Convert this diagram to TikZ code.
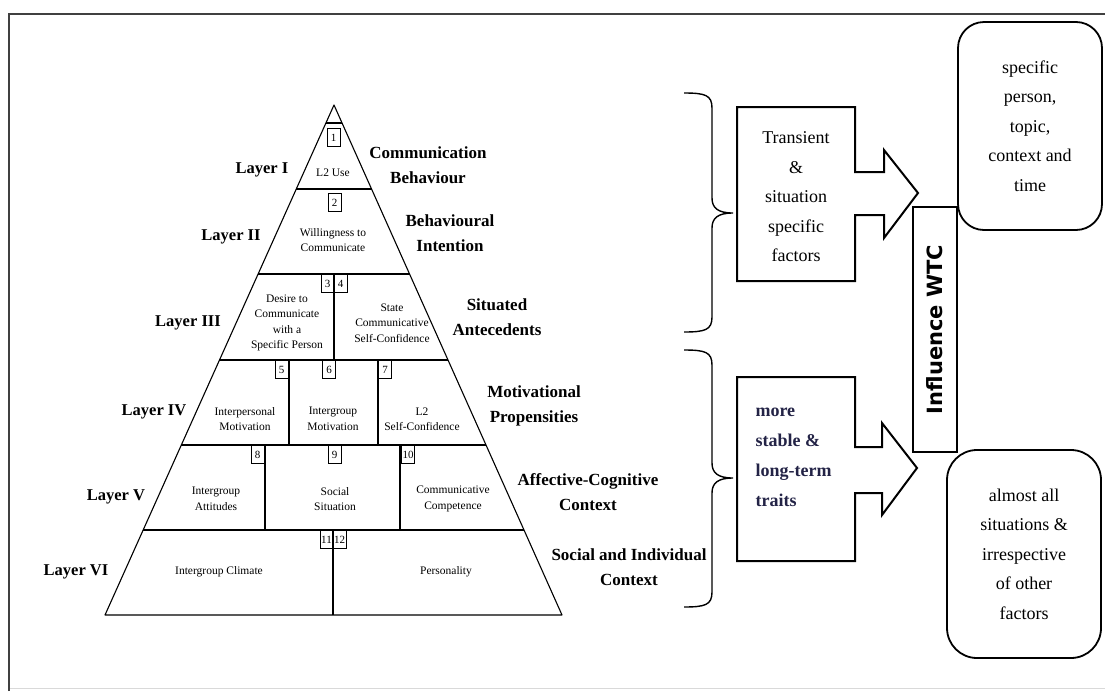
\documentclass[tikz,border=0pt]{standalone}
\usepackage{fontspec}
\setmainfont{Liberation Serif}
\newfontfamily\wtcfont{DejaVu Sans}
\usetikzlibrary{calc}
\definecolor{traitcol}{RGB}{35,35,70}

\begin{document}
\begin{tikzpicture}[x=1pt,y=-1pt,
    cell/.style={align=center,inner sep=1pt,font=\fontsize{11.5}{15.5}\selectfont},
    layerlab/.style={font=\bfseries\fontsize{16.5}{20}\selectfont},
    sidelab/.style={align=center,font=\bfseries\fontsize{17}{25}\selectfont},
    numbox/.style={draw,line width=.9pt,anchor=north,inner sep=0pt,minimum width=13pt,minimum height=18pt,font=\fontsize{11}{11}\selectfont},
    bigtext/.style={align=center,font=\fontsize{18}{29.5}\selectfont},
    rbox/.style={draw,line width=1.8pt,rounded corners=26pt}]
    \useasboundingbox (0,0) rectangle (1105,691);
    \draw[black!15] (9,688) -- (1105,688);
    \draw[line width=2.2pt,black!75] (9,691) -- (9,14) -- (1105,14);

    \coordinate (apex) at (334,105);
    \coordinate (bl) at (105,615);
    \coordinate (br) at (562,615);
    \draw[line width=1.1pt,line join=round] (apex) -- (bl) -- (br) -- cycle;
    \foreach \yy in {123,189,274,360,445,530}
    \draw[line width=1.1pt] ($(apex)!{(\yy-105)/510}!(bl)$) -- ($(apex)!{(\yy-105)/510}!(br)$);
    \foreach \xx/\ya/\yb in {334/274/360,289/360/445,378/360/445,265/445/530,400/445/530,333/530/615}
    \draw[line width=1.1pt] (\xx,\ya) -- (\xx,\yb);
    \foreach \n/\xx/\yy in {1/333.5/128,2/334.5/193,3/327.5/274,4/340.5/274,5/281.5/360,6/329/360,
        7/385/360,8/257.5/445,9/334.5/445,10/408/445,11/326.5/530,12/339.5/530}
    \node[numbox] (n\n) at (\xx,\yy) {\n};

    \node[cell] (use) at (333,173) {L2 Use};
    \node[cell] (wtcom) at (333,240) {Willingness to\\Communicate};
    \node[cell] (desire) at (287,323) {Desire to\\Communicate\\with a\\Specific Person};
    \node[cell] (state) at (392,323) {State\\Communicative\\Self-Confidence};
    \node[cell] (interp) at (245,419) {Interpersonal\\Motivation};
    \node[cell] (intermot) at (333,419) {Intergroup\\Motivation};
    \node[cell] (selfconf) at (422,419) {L2\\Self-Confidence};
    \node[cell] (attit) at (216,499) {Intergroup\\Attitudes};
    \node[cell] (social) at (335,499) {Social\\Situation};
    \node[cell] (compet) at (453,499) {Communicative\\Competence};
    \node[cell] (climate) at (219,572) {Intergroup Climate};
    \node[cell] (person) at (446,572) {Personality};

    \node[layerlab] (l1) at (262,170) {Layer I};
    \node[layerlab] (l2) at (231,237) {Layer II};
    \node[layerlab] (l3) at (188,323) {Layer III};
    \node[layerlab] (l4) at (154,412) {Layer IV};
    \node[layerlab] (l5) at (116,497) {Layer V};
    \node[layerlab] (l6) at (76,572) {Layer VI};

    \node[sidelab] (s1) at (428,165) {Communication\\Behaviour};
    \node[sidelab] (s2) at (450,233) {Behavioural\\Intention};
    \node[sidelab] (s3) at (497,317) {Situated\\Antecedents};
    \node[sidelab] (s4) at (534,406) {Motivational\\Propensities};
    \node[sidelab] (s5) at (588,492) {Affective-Cognitive\\Context};
    \node[sidelab] (s6) at (629,567) {Social and Individual\\Context};

    \foreach \ta/\tm/\tb in {93/213/332,350/478/607}
    \draw[line width=1.4pt] (684,\ta) .. controls (705,\ta) and (712,{\ta+2}) .. (712,{\ta+15})
        -- (712,{\tm-15}) .. controls (712,{\tm-5}) and (718,\tm) .. (733,\tm)
        .. controls (718,\tm) and (712,{\tm+5}) .. (712,{\tm+15})
        -- (712,{\tb-15}) .. controls (712,{\tb-2}) and (705,\tb) .. (684,\tb);

    \draw[line width=2pt] (737,107) -- (855,107) -- (855,172) -- (884,172) -- (884,150) -- (918,193)
        -- (884,238) -- (884,215) -- (855,215) -- (855,281) -- (737,281) -- cycle;
    \draw[line width=2pt] (737,377) -- (855,377) -- (855,447) -- (882,447) -- (882,423) -- (917,468)
        -- (882,515) -- (882,493) -- (855,493) -- (855,561) -- (737,561) -- cycle;
    \node[bigtext] (trans) at (796,197) {Transient\\\&\\situation\\specific\\factors};
    \node[bigtext,align=left,anchor=west,text=traitcol,font=\bfseries\fontsize{18}{30}\selectfont]
        (traits) at (752,457) {more\\stable \&\\long-term\\traits};

    \node[draw,line width=1.8pt,rotate=90,minimum width=245pt,minimum height=44pt,inner sep=0pt,
        font=\wtcfont\bfseries\fontsize{21}{21}\selectfont] (wtc) at (935,329.5) {Influence WTC};

    \node[rbox,bigtext,minimum width=144pt,minimum height=208pt] (spec) at (1030,126)
        {specific\\person,\\topic,\\context and\\time};
    \node[rbox,bigtext,minimum width=154pt,minimum height=208pt,rounded corners=30pt] (almost) at (1024,554)
        {almost all\\situations \&\\irrespective\\of other\\factors};
\end{tikzpicture}
\end{document}
